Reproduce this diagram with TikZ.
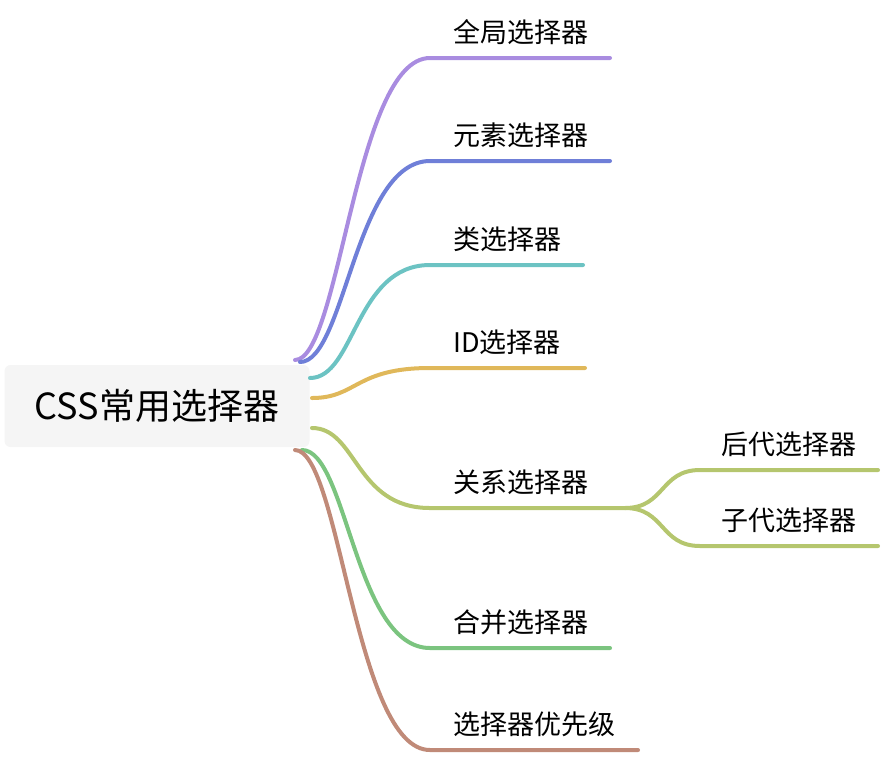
\documentclass[tikz,border=0pt]{standalone}
\usepackage{fontspec}
\setmainfont{Noto Sans CJK SC}
\definecolor{cquan}{HTML}{A98CE0}
\definecolor{cyuan}{HTML}{6F7FD8}
\definecolor{clei}{HTML}{6CC3C3}
\definecolor{cid}{HTML}{E0B85A}
\definecolor{cguan}{HTML}{B5C66E}
\definecolor{che}{HTML}{7BC47F}
\definecolor{cyou}{HTML}{C08A78}
\tikzset{
    branch/.style = {line width = 4pt, line cap = round},
    leaf/.style = {anchor = south west, inner sep = 0pt, font = \fontsize{27}{29}\selectfont},
    rootbox/.style = {fill = black!4, rounded corners = 6pt, minimum width = 305pt, minimum height = 82pt, font = \fontsize{36}{40}\selectfont}
}
\begin{document}
\begin{tikzpicture}[x = 1pt, y = -1pt]
    \useasboundingbox (0, 0) rectangle (882, 756);
    \node[rootbox] (root) at (157, 406) {CSS常用选择器}; % 根节点

    % 分支: 起点 / 终点 y / 线尾 x / 颜色 / 文字
    \foreach \n/\sx/\sy/\ey/\lx/\col/\txt in {
        a/295/360/58/610/cquan/全局选择器,
        b/300/362/161/610/cyuan/元素选择器,
        c/310/378/265/583/clei/类选择器,
        d/312/398/368/585/cid/ID选择器,
        e/312/428/508/625/cguan/关系选择器,
        f/302/450/648/610/che/合并选择器,
        g/295/450/750/638/cyou/选择器优先级}
    {
        \coordinate (s\n) at (\sx, \sy);
        \coordinate (m\n) at (430, \ey);
        \coordinate (e\n) at (\lx, \ey);
        \draw[branch, \col] (s\n) .. controls +(45, 0) and +(-75, 0) .. (m\n) -- (e\n);
        \node[leaf] (t\n) at (453, \ey - 13) {\txt};
    }

    % 关系选择器的子节点
    \foreach \n/\ey/\txt in {h/470/后代选择器, i/546/子代选择器}
    {
        \coordinate (m\n) at (700, \ey);
        \coordinate (e\n) at (878, \ey);
        \draw[branch, cguan] (ee) .. controls +(40, 0) and +(-40, 0) .. (m\n) -- (e\n);
        \node[leaf] (t\n) at (721, \ey - 13) {\txt};
    }
\end{tikzpicture}
\end{document}
